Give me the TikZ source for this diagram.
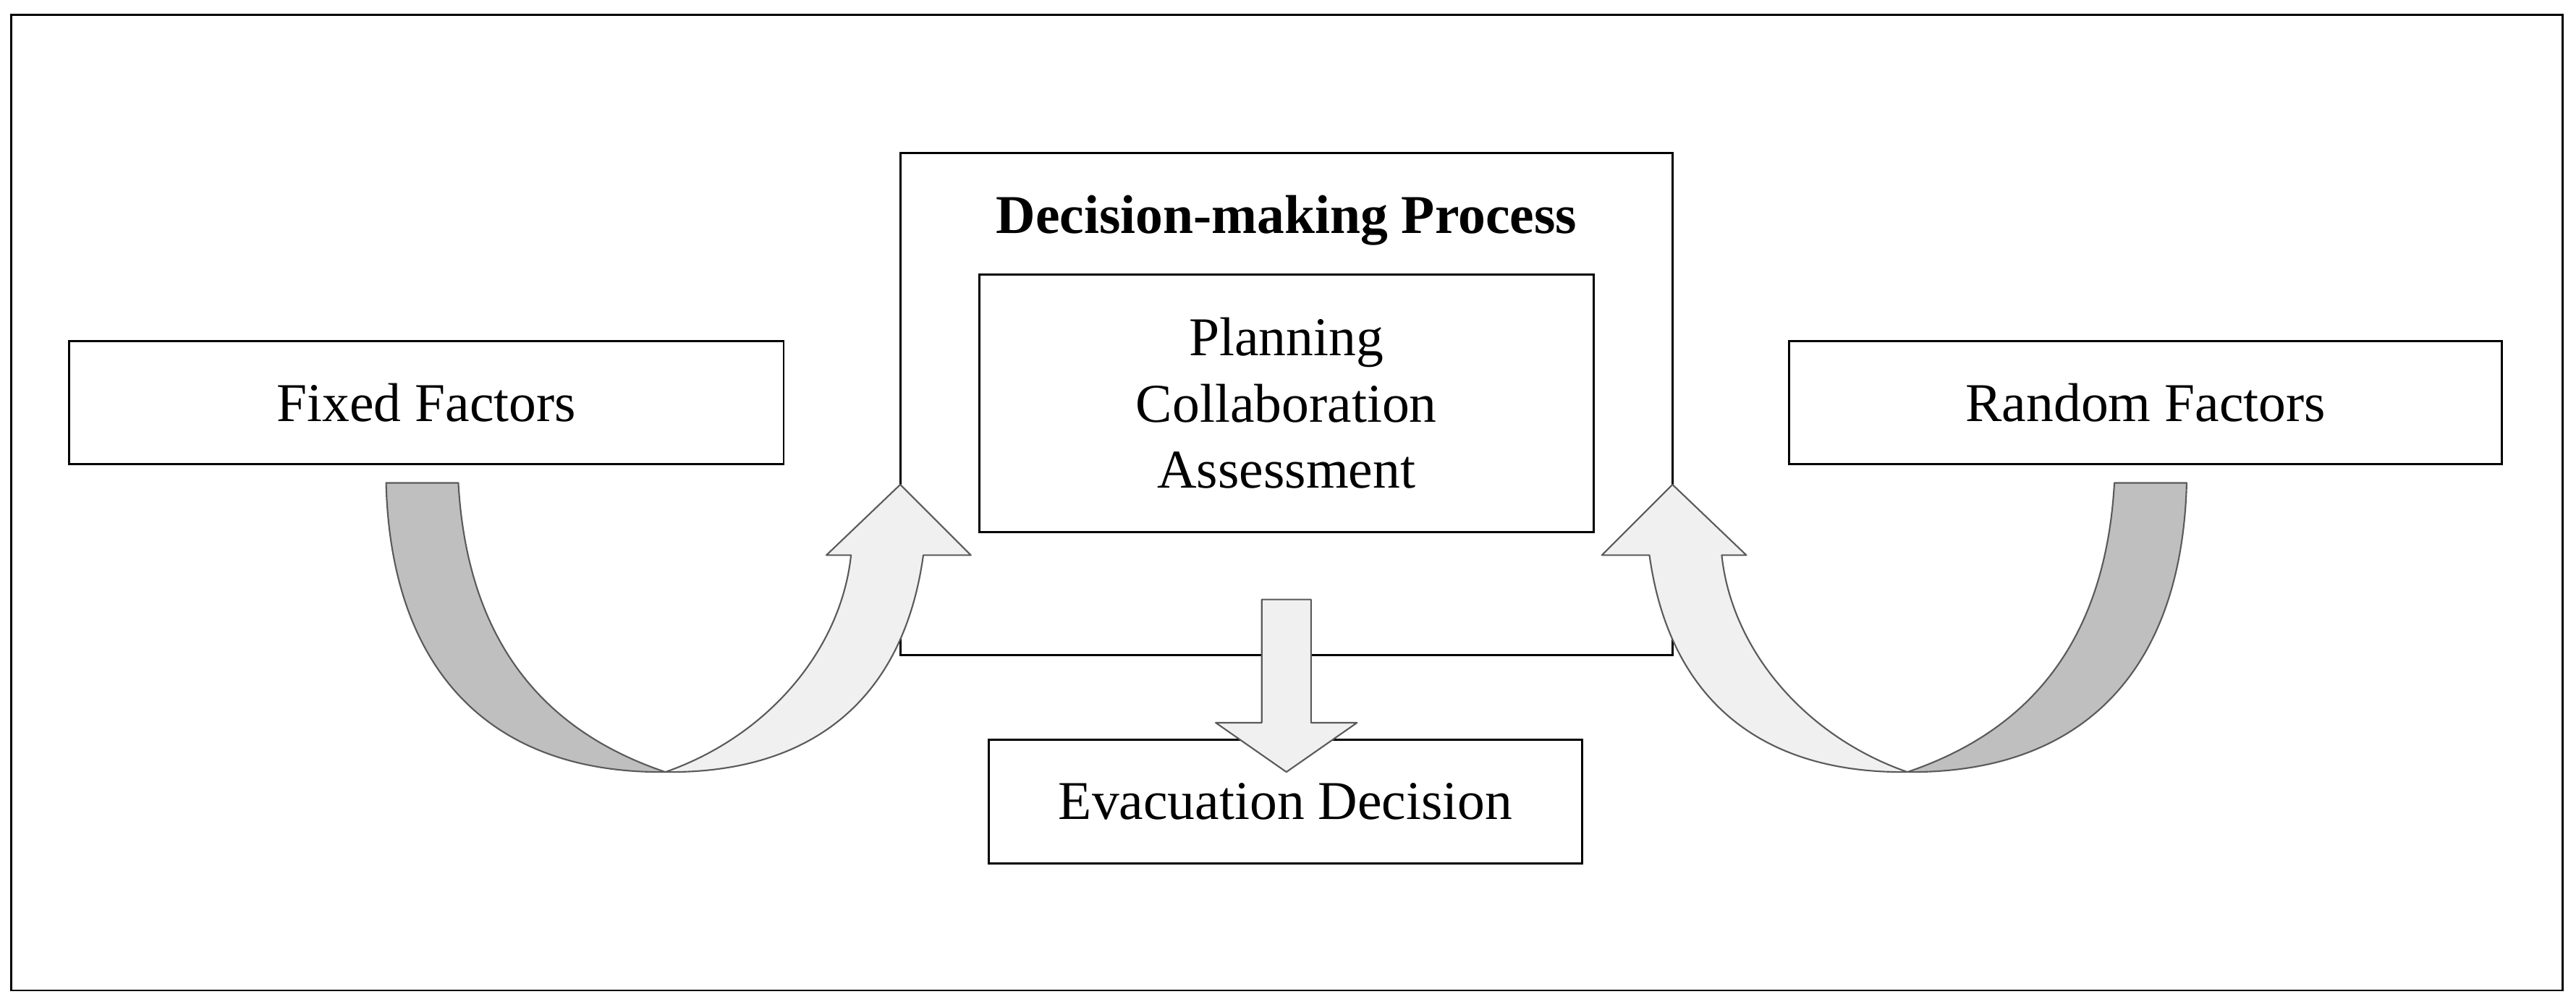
\documentclass[tikz,border=0pt]{standalone}
\usepackage{fontspec}
\setmainfont{Liberation Serif}
\usepackage{tikz}
\usetikzlibrary{positioning}
\definecolor{bandgray}{HTML}{BFBFBF}
\definecolor{bandlight}{HTML}{F0F0F0}
\definecolor{edgegray}{HTML}{5A5A5A}
\tikzset{
  box/.style={draw, line width=0.8pt, inner sep=0pt, font=\fontsize{21.5}{26}\selectfont, align=center},
  band/.style={draw=edgegray, line width=0.6pt, line join=round},
}
\begin{document}
\begin{tikzpicture}[x=0.0227cm, y=-0.0227cm]
    \useasboundingbox (0,0) rectangle (1568,610);
    \draw[line width=0.8pt] (7,9) rectangle (1560,603);
    % boxes
    \node[box, minimum width=435*0.0227cm, minimum height=75*0.0227cm] (fixed) at (259.5,245) {Fixed Factors};
    \node[box, minimum width=434*0.0227cm, minimum height=75*0.0227cm] (random) at (1306,245) {Random Factors};
    \node[box, minimum width=470*0.0227cm, minimum height=306*0.0227cm] (process) at (783,246) {};
    \node[font=\fontsize{21.5}{26}\selectfont\bfseries] (title) at (783,134) {Decision-making Process};
    \node[box, minimum width=374*0.0227cm, minimum height=157*0.0227cm, font=\fontsize{21.5}{26}\selectfont] (steps) at (783,245.5) {Planning\\Collaboration\\Assessment};
    \node[box, minimum width=361*0.0227cm, minimum height=75*0.0227cm] (evac) at (782.5,488) {Evacuation Decision};
    % down arrow
    \draw[band, fill=bandlight] (768,365) -- (798,365) -- (798,440) -- (826,440) -- (783,470)
        -- (740,440) -- (768,440) -- cycle;
    % curved arrows, left and mirrored right
    \foreach \side in {1,-1} {
        \begin{scope}[xshift={(1-\side)*783*0.0227cm}, xscale=\side]
        \draw[band, fill=bandgray] (235,294) -- (279,294)
            .. controls (285,400) and (340,448) .. (405,470)
            .. controls (300,471) and (238,410) .. (235,294) -- cycle;
        \draw[band, fill=bandlight] (405,470)
            .. controls (468,448) and (512,395) .. (518,338)
            -- (503,338) -- (548,295) -- (591,338) -- (562,338)
            .. controls (550,425) and (495,471) .. (405,470) -- cycle;
        \end{scope}
    }
\end{tikzpicture}
\end{document}
